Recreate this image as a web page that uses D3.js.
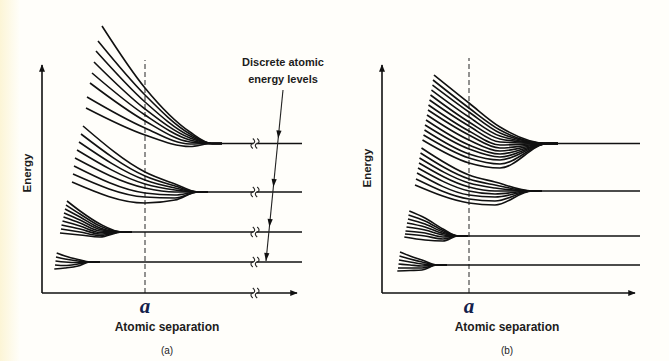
<!DOCTYPE html>
<html>
<head>
<meta charset="utf-8">
<script src="https://cdn.jsdelivr.net/npm/d3@7"></script>
<style>
  html, body { margin: 0; padding: 0; background: #fffefa; }
  svg { display: block; }
  text { font-family: "Liberation Sans", Arial, sans-serif; fill: #1c1c1c; }
</style>
</head>
<body>
<svg></svg>
<script>
// energy of each discrete atomic level (arb. units), top band first
const levelsA = [149.5, 101, 61, 31];
const levelsB = [149.5, 102, 57, 28];
// separation where each band has narrowed to its single level
const mergeA = [170, 156, 80, 48];
const mergeB = [166, 150, 76, 55];
// the two separations at which curve energies were read, per band
const stationsA = [[103, 148], [103, 133], [38, 58], [23, 36]];
const stationsB = [[87, 118], [87, 113], [43, 61], [28, 40]];
// separation "a" (dashed line)
const aSepA = 103, aSepB = 87;

// curve rows: [start separation, start energy, energy at station 1, energy at station 2]
const bandA1 = [
  [60, 267, 205, 161], [56, 252, 198, 159], [54, 242, 191, 157], [52, 231, 184, 155],
  [50, 220, 178, 153], [48, 210, 172, 151], [45, 196, 165, 149], [44, 185, 158, 146.5]
];
const bandA2 = [
  [41, 167, 121, 109], [39, 159, 117, 107], [37, 151, 113, 105], [35, 143, 109, 103],
  [33, 135, 105, 101], [32, 127, 100, 98], [31, 119, 96, 95], [30, 111, 90, 93]
];
const bandA3 = [
  [25, 92, 82, 69], [24, 88, 79, 67], [23, 84, 76, 65], [22, 80, 73, 63.5], [21.5, 76, 70, 62],
  [20.5, 72, 67, 60.5], [19.5, 68, 64, 59], [19, 64, 61, 57.5], [18, 60, 58, 56]
];
const bandA4 = [
  [14.7, 40, 37, 33.5], [14, 36, 34, 32], [13.5, 32, 31, 30.5], [13, 28, 27.5, 29], [12.3, 24, 25, 27]
];
const bandB1 = [
  [52, 218, 190, 166], [51, 213, 185, 163], [50.5, 208, 181, 160], [49.5, 203, 176, 157],
  [48.5, 198, 171, 154], [47.5, 193, 167, 151], [46.5, 188, 162, 148], [46, 183, 158, 145],
  [45, 178, 153, 142], [44, 173, 148, 139], [43, 168, 144, 136], [42.5, 163, 139, 133],
  [41.5, 158, 135, 129], [40.5, 153, 130, 125]
];
const bandB2 = [
  [39.5, 145, 118, 111], [38.5, 140, 114, 108], [37.5, 135, 110, 105], [37, 130, 106, 102],
  [36, 125, 102, 99], [35, 120, 98, 96], [34, 114, 94, 92], [33, 108, 90, 88]
];
const bandB3 = [
  [27.3, 82, 75, 64], [26.5, 78, 72, 62.5], [26, 74, 69, 61], [25, 70, 66, 59.5],
  [24.5, 66, 63, 58], [23.5, 62, 60, 56], [23, 59, 57, 54], [22.3, 56, 53, 52]
];
const bandB4 = [
  [18, 41, 37, 33], [17.5, 37, 34, 31], [17, 33, 31, 29], [16.5, 29, 28, 27], [16, 25, 25, 25], [15.3, 22, 22.5, 23]
];

const width = 669, height = 361;
const svg = d3.select("svg").attr("width", width).attr("height", height);

// scanned-paper tint on the left edge
const defs = svg.append("defs");
const grad = defs.append("linearGradient").attr("id", "tint");
grad.append("stop").attr("offset", 0).attr("stop-color", "#fcf5d6");
grad.append("stop").attr("offset", 1).attr("stop-color", "#fffefa");
svg.append("rect").attr("width", width).attr("height", height).attr("fill", "#fffefa");
svg.append("rect").attr("width", 20).attr("height", height).attr("fill", "url(#tint)");

defs.append("marker").attr("id", "head")
  .attr("viewBox", "0 0 10 8").attr("refX", 9).attr("refY", 4)
  .attr("markerWidth", 8).attr("markerHeight", 6).attr("markerUnits", "userSpaceOnUse")
  .attr("orient", "auto")
  .append("path").attr("d", "M0,0 L10,4 L0,8 Z").attr("fill", "#111");

const y = d3.scaleLinear().domain([0, 240]).range([293, 53]);

const panels = [
  { x: d3.scaleLinear().domain([0, 260]).range([42, 302]), bands: [bandA1, bandA2, bandA3, bandA4],
    levels: levelsA, merge: mergeA, stations: stationsA, aSep: aSepA,
    axisEnd: 255, lineEnd: 260, dashTop: 233, breakAt: 213, tag: "(a)", energyY: 120, labelX: 125 },
  { x: d3.scaleLinear().domain([0, 260]).range([382, 642]), bands: [bandB1, bandB2, bandB3, bandB4],
    levels: levelsB, merge: mergeB, stations: stationsB, aSep: aSepB,
    axisEnd: 253, lineEnd: 258, dashTop: 235, breakAt: null, tag: "(b)", energyY: 125, labelX: 125 }
];

const line = d3.line().curve(d3.curveMonotoneX);

panels.forEach(p => {
  const x = p.x;
  const g = svg.append("g");

  g.append("line")
    .attr("x1", x(p.aSep)).attr("x2", x(p.aSep)).attr("y1", y(0)).attr("y2", y(p.dashTop))
    .attr("stroke", "#3a3a3a").attr("stroke-width", 1.1).attr("stroke-dasharray", "5,3");

  p.bands.forEach((band, i) => {
    const [s1, s2] = p.stations[i], m = p.merge[i], L = p.levels[i];
    line.x(d => x(d[0])).y(d => y(d[1]));
    g.selectAll(null).data(band).enter().append("path")
      .attr("d", c => line([[c[0], c[1]], [s1, c[2]], [s2, c[3]], [m, L], [m + 10, L]]))
      .attr("fill", "none").attr("stroke", "#111").attr("stroke-width", 1.6);
    g.append("line")
      .attr("x1", x(m)).attr("x2", x(p.lineEnd)).attr("y1", y(L)).attr("y2", y(L))
      .attr("stroke", "#111").attr("stroke-width", 1.6);
  });

  // axes
  g.append("line").attr("x1", x(0)).attr("x2", x(0)).attr("y1", y(0)).attr("y2", y(228))
    .attr("stroke", "#111").attr("stroke-width", 1.6).attr("marker-end", "url(#head)");
  g.append("line").attr("x1", x(0)).attr("x2", x(p.axisEnd)).attr("y1", y(0)).attr("y2", y(0))
    .attr("stroke", "#111").attr("stroke-width", 1.6).attr("marker-end", "url(#head)");

  // axis-break marks
  if (p.breakAt !== null) {
    const bx = x(p.breakAt);
    p.levels.concat([0]).forEach(L => {
      const cy = y(L);
      g.append("rect").attr("x", bx - 1.5).attr("y", cy - 2).attr("width", 3).attr("height", 4).attr("fill", "#fffefa");
      [-2.2, 2.2].forEach(o => {
        const cx = bx + o;
        g.append("path")
          .attr("d", `M${cx},${cy - 5} C${cx + 2.5},${cy - 3} ${cx + 2.5},${cy - 0.5} ${cx},${cy} S${cx - 2.5},${cy + 3} ${cx},${cy + 5}`)
          .attr("fill", "none").attr("stroke", "#222").attr("stroke-width", 1.1);
      });
    });
  }

  g.append("text").attr("transform", `translate(${x(-14)},${y(p.energyY)}) rotate(-90)`)
    .attr("text-anchor", "middle").attr("dominant-baseline", "middle")
    .attr("font-size", 11.5).attr("font-weight", "bold").text("Energy");
  g.append("text").attr("x", x(p.aSep)).attr("y", 313).attr("text-anchor", "middle")
    .style("font-family", "'Liberation Serif', 'DejaVu Serif', serif").style("fill", "#14204a")
    .attr("font-size", 21).attr("font-style", "italic").attr("font-weight", "bold").text("a");
  g.append("text").attr("x", x(p.labelX)).attr("y", 331).attr("text-anchor", "middle")
    .attr("font-size", 12).attr("font-weight", "bold").text("Atomic separation");
  g.append("text").attr("x", x(p.labelX)).attr("y", 354).attr("text-anchor", "middle")
    .attr("font-size", 10).text(p.tag);
});

// annotation pointing at the isolated-atom levels in (a)
const xa = panels[0].x;
const pFrom = [xa(241), y(203)], pTo = [xa(224), y(32)];
svg.append("line").attr("x1", pFrom[0]).attr("y1", pFrom[1]).attr("x2", pTo[0]).attr("y2", pTo[1])
  .attr("stroke", "#222").attr("stroke-width", 1.1);
const len = Math.hypot(pTo[0] - pFrom[0], pTo[1] - pFrom[1]);
const u = [(pTo[0] - pFrom[0]) / len, (pTo[1] - pFrom[1]) / len], n = [-u[1], u[0]];
levelsA.map((L, i) => i === levelsA.length - 1 ? 32 : L + 5).forEach(v => {
  const ty = y(v), t = (ty - pFrom[1]) / (pTo[1] - pFrom[1]);
  const tip = [pFrom[0] + t * (pTo[0] - pFrom[0]), ty];
  const b = [tip[0] - u[0] * 8, tip[1] - u[1] * 8];
  svg.append("path")
    .attr("d", `M${tip[0]},${tip[1]} L${b[0] + n[0] * 2.6},${b[1] + n[1] * 2.6} L${b[0] - n[0] * 2.6},${b[1] - n[1] * 2.6} Z`)
    .attr("fill", "#111");
});
svg.append("text").attr("x", xa(241)).attr("y", 66).attr("text-anchor", "middle")
  .attr("font-size", 11).attr("font-weight", "bold").text("Discrete atomic");
svg.append("text").attr("x", xa(241)).attr("y", 83).attr("text-anchor", "middle")
  .attr("font-size", 11).attr("font-weight", "bold").text("energy levels");
</script>
</body>
</html>
